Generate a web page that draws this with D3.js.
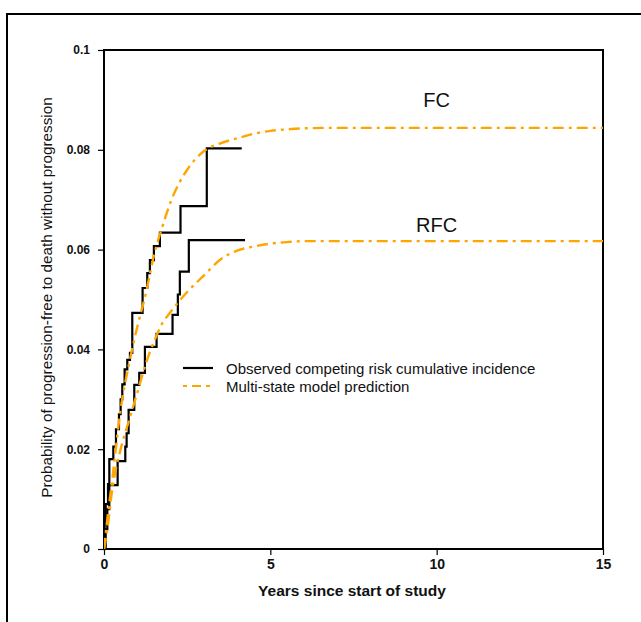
<!DOCTYPE html>
<html>
<head>
<meta charset="utf-8">
<script src="https://cdn.jsdelivr.net/npm/d3@7"></script>
<style>
  html, body { margin: 0; padding: 0; background: #fff; }
  svg { display: block; font-family: "Liberation Sans", Arial, sans-serif; }
</style>
</head>
<body>
<svg id="chart" width="641" height="622"></svg>
<script>
// ---- Data ----
const xTicks = [0, 5, 10, 15];
const yTicks = [0, 0.02, 0.04, 0.06, 0.08, 0.1];
const yTickLabels = ["0", "0.02", "0.04", "0.06", "0.08", "0.1"];

// Observed competing-risk cumulative incidence (step functions)
const fcObsTimes  = [0, 0.02, 0.05, 0.12, 0.16, 0.28, 0.36, 0.45, 0.50, 0.55, 0.62, 0.70, 0.78, 0.85, 1.16, 1.30, 1.38, 1.50, 1.68, 2.30, 3.09, 4.14];
const fcObsValues = [0, 0.005, 0.009, 0.013, 0.018, 0.0205, 0.024, 0.027, 0.030, 0.033, 0.036, 0.0379, 0.0393, 0.0473, 0.0523, 0.0553, 0.0579, 0.0607, 0.0634, 0.0687, 0.0803, 0.0803];

const rfcObsTimes  = [0, 0.05, 0.10, 0.16, 0.41, 0.64, 0.68, 0.74, 0.91, 1.06, 1.23, 1.58, 2.06, 2.22, 2.28, 2.55, 4.24];
const rfcObsValues = [0, 0.004, 0.008, 0.0128, 0.0176, 0.0205, 0.0232, 0.0279, 0.0329, 0.0353, 0.0405, 0.0431, 0.0469, 0.0510, 0.0556, 0.0619, 0.0619];

// Multi-state model predictions
const fcModelTimes  = [0, 0.1, 0.25, 0.5, 0.75, 1.0, 1.25, 1.5, 1.75, 2.0, 2.5, 3.0, 3.5, 4.0, 4.5, 5.0, 5.5, 6.0, 7.0, 8.0, 10.0, 12.0, 15.0];
const fcModelValues = [0, 0.006, 0.014, 0.028, 0.037, 0.0445, 0.051, 0.0588, 0.0645, 0.0695, 0.0760, 0.0797, 0.0813, 0.0823, 0.0832, 0.0838, 0.0841, 0.0843, 0.0844, 0.0844, 0.0844, 0.0844, 0.0844];

const rfcModelTimes  = [0, 0.1, 0.25, 0.5, 0.75, 1.0, 1.25, 1.5, 1.75, 2.0, 2.5, 3.0, 3.5, 4.0, 4.5, 5.0, 5.5, 6.0, 7.0, 15.0];
const rfcModelValues = [0, 0.004, 0.012, 0.020, 0.0257, 0.0313, 0.0370, 0.0415, 0.0452, 0.0475, 0.0515, 0.0548, 0.0580, 0.0598, 0.0606, 0.0612, 0.0615, 0.0617, 0.0617, 0.0617];

const curveLabels = ["FC", "RFC"];
const curveLabelTimes = [10.0, 10.0];
const curveLabelValues = [0.0886, 0.0635];
const legendLabels = ["Observed competing risk cumulative incidence", "Multi-state model prediction"];
const xTitle = "Years since start of study";
const yTitle = "Probability of progression-free to death without progression";

// ---- Layout ----
const svg = d3.select("#chart");
const plot = { left: 104, right: 603, top: 50, bottom: 549 };
const orange = "#FFA500";
const dash = "11,5,3,5";

const x = d3.scaleLinear().domain([0, 15]).range([plot.left, plot.right]);
const y = d3.scaleLinear().domain([0, 0.1]).range([plot.bottom, plot.top]);

// outer frame
svg.append("rect")
  .attr("x", 7).attr("y", 14).attr("width", 700).attr("height", 700)
  .attr("fill", "none").attr("stroke", "#000").attr("stroke-width", 2);

// plot box
svg.append("rect")
  .attr("x", plot.left).attr("y", plot.top)
  .attr("width", plot.right - plot.left).attr("height", plot.bottom - plot.top)
  .attr("fill", "none").attr("stroke", "#000").attr("stroke-width", 2);

// axes
const xAxis = d3.axisBottom(x).tickValues(xTicks).tickFormat(d3.format("d")).tickSize(6).tickPadding(4);
const yAxis = d3.axisLeft(y).tickValues(yTicks).tickFormat((d, i) => yTickLabels[i]).tickSize(6).tickPadding(8);

const gx = svg.append("g").attr("transform", `translate(0,${plot.bottom})`).call(xAxis);
const gy = svg.append("g").attr("transform", `translate(${plot.left},0)`).call(yAxis);
[gx, gy].forEach(g => {
  g.select(".domain").remove();
  g.selectAll(".tick line").attr("stroke", "#000").attr("stroke-width", 1.2);
  g.selectAll(".tick text").attr("fill", "#111").attr("font-weight", "bold")
    .attr("font-family", "Liberation Sans, Arial, sans-serif");
});
gx.selectAll(".tick text").attr("font-size", 14);
gy.selectAll(".tick text").attr("font-size", 12);

// titles
svg.append("text")
  .attr("x", 352).attr("y", 596)
  .attr("text-anchor", "middle").attr("font-weight", "bold").attr("font-size", 15.5)
  .attr("fill", "#111").text(xTitle);

svg.append("text")
  .attr("transform", `translate(52,${(plot.top + plot.bottom) / 2 - 2}) rotate(-90)`)
  .attr("text-anchor", "middle").attr("font-size", 15.3)
  .attr("fill", "#111").text(yTitle);

// lines
svg.append("clipPath").attr("id", "clip").append("rect")
  .attr("x", plot.left).attr("y", plot.top - 2)
  .attr("width", plot.right - plot.left).attr("height", plot.bottom - plot.top + 2);

const stepLine = d3.line().x(d => x(d[0])).y(d => y(d[1])).curve(d3.curveStepAfter);
const smoothLine = d3.line().x(d => x(d[0])).y(d => y(d[1])).curve(d3.curveMonotoneX);

const gLines = svg.append("g").attr("clip-path", "url(#clip)");

const models = [
  d3.zip(fcModelTimes, fcModelValues),
  d3.zip(rfcModelTimes, rfcModelValues)
];
const observed = [
  d3.zip(fcObsTimes, fcObsValues),
  d3.zip(rfcObsTimes, rfcObsValues)
];

observed.forEach(data => {
  gLines.append("path").datum(data).attr("d", stepLine)
    .attr("fill", "none").attr("stroke", "#000").attr("stroke-width", 2.2);
});
models.forEach(data => {
  gLines.append("path").datum(data).attr("d", smoothLine)
    .attr("fill", "none").attr("stroke", orange).attr("stroke-width", 2.4)
    .attr("stroke-dasharray", dash);
});

// curve labels
curveLabels.forEach((t, i) => {
  svg.append("text")
    .attr("x", x(curveLabelTimes[i])).attr("y", y(curveLabelValues[i]))
    .attr("text-anchor", "middle").attr("font-size", 20).attr("fill", "#111").text(t);
});

// legend
const legend = svg.append("g");
const legendItems = [
  { label: legendLabels[0], color: "#000", dash: null },
  { label: legendLabels[1], color: orange, dash: "4,5,9,5" }
];
legendItems.forEach((it, i) => {
  const ly = 368 + i * 18;
  legend.append("line")
    .attr("x1", 183).attr("x2", 213).attr("y1", ly).attr("y2", ly)
    .attr("stroke", it.color).attr("stroke-width", 2.2)
    .attr("stroke-dasharray", it.dash);
  legend.append("text")
    .attr("x", 226).attr("y", ly + 5.5)
    .attr("font-size", 15).attr("fill", "#111").text(it.label);
});
</script>
</body>
</html>
